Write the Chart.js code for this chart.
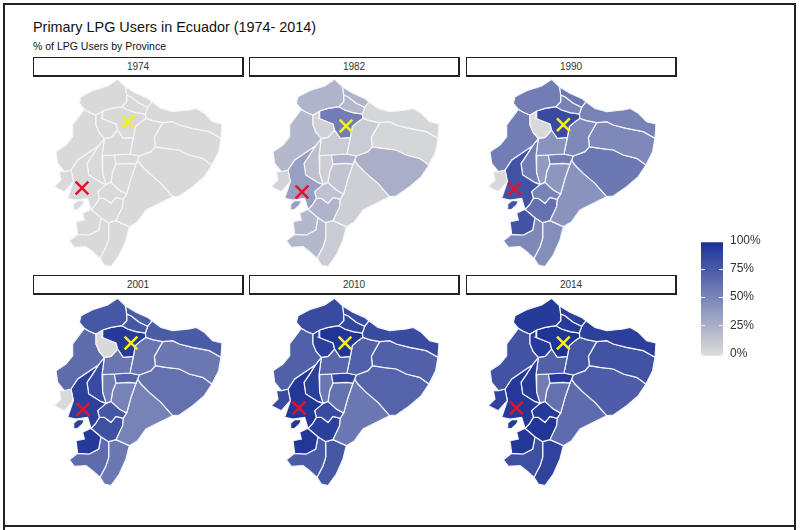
<!DOCTYPE html>
<html>
<head>
<meta charset="utf-8">
<script src="https://cdn.jsdelivr.net/npm/chart.js"></script>
<style>
  html, body { margin: 0; padding: 0; background: #fff; }
  #page { position: relative; width: 800px; height: 530px; overflow: hidden; font-family: "Liberation Sans", Arial, sans-serif; color: #111; }
  #frame { position: absolute; left: 3px; top: 3px; width: 789px; height: 520px; border: 2px solid #222; }
  .tail { position: absolute; top: 527px; width: 2px; height: 3px; background: #222; }
  #title { position: absolute; left: 33px; top: 19px; font-size: 14.4px; white-space: nowrap; }
  #subtitle { position: absolute; left: 33px; top: 40px; font-size: 10.5px; white-space: nowrap; }
  .strip { position: absolute; box-sizing: border-box; width: 211px; height: 20px; border: 1px solid #222; border-right-width: 2px; border-bottom-width: 2px; background: #fff; text-align: center; font-size: 10px; line-height: 18px; color: #333; }
  canvas { position: absolute; }
</style>
</head>
<body>
<div id="page">
  <div id="frame"></div>
  <div class="tail" style="left:3px"></div>
  <div class="tail" style="left:794px"></div>
  <div id="title">Primary LPG Users in Ecuador (1974- 2014)</div>
  <div id="subtitle">% of LPG Users by Province</div>
</div>
<script>
const years = ['1974', '1982', '1990', '2001', '2010', '2014'];

// province outlines in map units (same map in every panel, y grows downward)
const esmeraldas = [[245,88],[268,110],[272,135],[272,155],[258,170],[225,175],[200,183],[180,195],[160,187],[145,178],[130,160],[135,140],[170,122],[215,108]];
const carchi = [[268,110],[300,130],[335,145],[348,155],[335,172],[310,160],[285,140],[272,135]];
const imbabura = [[272,135],[285,140],[310,160],[335,172],[328,192],[300,188],[275,180],[258,170],[272,155]];
const sucumbios = [[348,155],[375,175],[410,185],[460,180],[480,175],[505,190],[530,215],[558,222],[555,265],[520,245],[470,235],[430,225],[410,215],[380,218],[350,212],[330,205],[328,192],[335,172]];
const pichincha = [[200,183],[225,175],[258,170],[275,180],[300,188],[328,192],[330,205],[315,215],[298,230],[292,262],[262,265],[245,240],[240,222],[210,210],[198,205]];
const santoDomingo = [[180,195],[200,183],[198,205],[210,210],[240,222],[245,240],[225,262],[205,265],[190,248],[180,225]];
const manabi = [[145,178],[160,187],[180,195],[180,225],[190,248],[205,265],[188,287],[125,330],[105,360],[85,365],[65,340],[60,305],[90,285],[110,260],[110,225]];
const santaElena = [[70,365],[85,365],[105,360],[112,395],[85,425],[55,410],[75,390]];
const guayas = [[188,287],[167,320],[153,340],[158,375],[195,398],[210,403],[185,425],[190,445],[178,465],[165,478],[155,445],[120,450],[95,445],[112,395],[105,360],[125,330]];
const puna = [[113,462],[125,452],[145,452],[140,465],[125,478],[113,480]];
const losRios = [[188,287],[205,265],[198,317],[200,370],[210,403],[195,398],[158,375],[153,340],[167,320]];
const cotopaxi = [[205,265],[225,262],[245,240],[262,265],[292,262],[282,312],[235,315],[198,317]];
const napo = [[292,262],[298,230],[315,215],[330,205],[350,212],[380,218],[355,262],[358,290],[345,305],[310,318],[282,312]];
const orellana = [[380,218],[410,215],[430,225],[470,235],[520,245],[555,265],[548,305],[528,345],[500,325],[460,315],[430,300],[390,295],[358,290],[355,262]];
const tungurahua = [[235,315],[282,312],[310,318],[305,330],[300,342],[280,340],[240,342]];
const pastaza = [[310,318],[345,305],[358,290],[390,295],[430,300],[460,315],[500,325],[528,345],[505,380],[470,410],[430,438],[410,440],[375,400],[340,370],[315,345],[305,330]];
const bolivar = [[198,317],[235,315],[240,342],[230,365],[225,397],[210,403],[200,370]];
const chimborazo = [[240,342],[280,340],[300,342],[285,385],[272,432],[250,420],[225,397],[230,365]];
const morona = [[300,342],[305,330],[315,345],[340,370],[375,400],[410,440],[370,460],[330,480],[305,515],[280,530],[240,512],[260,470],[262,448],[272,432],[285,385]];
const canar = [[210,403],[225,397],[250,420],[272,432],[262,448],[240,442],[225,460],[205,445],[190,445],[185,425]];
const azuay = [[190,445],[205,445],[225,460],[240,442],[262,448],[260,470],[240,512],[218,518],[195,503],[165,478],[178,465]];
const elOro = [[165,478],[195,503],[188,540],[160,555],[125,553],[120,515],[145,510],[140,490]];
const loja = [[125,553],[160,555],[188,540],[195,503],[218,518],[218,565],[210,590],[192,625],[170,605],[150,590],[115,592],[100,572]];
const zamora = [[218,518],[240,512],[280,530],[270,570],[250,615],[225,650],[205,645],[192,625],[210,590],[218,565]];

const provinces = [esmeraldas, carchi, imbabura, sucumbios, pichincha, santoDomingo, manabi, santaElena, guayas, puna, losRios, cotopaxi, napo, orellana, tungurahua, pastaza, bolivar, chimborazo, morona, canar, azuay, elOro, loja, zamora];

// % of LPG users, same order as provinces
const pct1974 = [0,0,0,0,0,0,0,0,0,0,0,0,0,0,0,0,0,0,0,0,0,0,0,0];
const pct1982 = [22,22,20,2,55,5,20,3,35,35,15,8,8,2,22,25,6,12,6,14,22,20,20,8];
const pct1990 = [55,58,52,52,85,0,55,0,80,80,55,42,48,48,55,58,38,40,42,52,62,80,48,45];
const pct2001 = [78,75,78,75,95,0,65,0,92,92,85,60,60,58,70,62,55,52,52,78,82,95,65,58];
const pct2010 = [85,85,88,85,98,92,72,85,97,97,92,68,72,72,88,70,58,62,58,85,92,97,75,78];
const pct2014 = [95,92,95,92,99,95,80,90,96,96,95,72,78,80,95,74,55,62,65,95,98,97,82,90];
const pctByYear = [pct1974, pct1982, pct1990, pct2001, pct2010, pct2014];

// the yellow and red X marks, one per panel
const yellowX = [[276,216],[279,228],[280,224],[285,222],[276,222],[280,222]];
const redX = [[138,414],[147,426],[133,416],[141,421],[138,417],[139,417]];

const legendTicks = [0, 25, 50, 75, 100];

const colLeft = [36, 253, 470];
const rowTop = [78, 297];
const stripTop = [57, 275];
const stripLeft = [33, 249, 466];

function pctColor(v) {
  const t = v / 100;
  const r = Math.round(217 + (28 - 217) * t);
  const g = Math.round(217 + (50 - 217) * t);
  const b = Math.round(217 + (150 - 217) * t);
  return `rgb(${r},${g},${b})`;
}

function addCanvas(left, top, w, h) {
  const c = document.createElement('canvas');
  c.width = w;
  c.height = h;
  c.style.left = left + 'px';
  c.style.top = top + 'px';
  c.style.width = w + 'px';
  c.style.height = h + 'px';
  document.getElementById('page').appendChild(c);
  return c;
}

years.forEach((year, i) => {
  const col = i % 3;
  const row = Math.floor(i / 3);

  const strip = document.createElement('div');
  strip.className = 'strip';
  strip.style.left = stripLeft[col] + 'px';
  strip.style.top = stripTop[row] + 'px';
  strip.textContent = year;
  document.getElementById('page').appendChild(strip);

  const datasets = provinces.map((poly, p) => ({
    label: 'p' + p,
    data: poly.concat([poly[0]]).map(d => ({ x: d[0], y: d[1] })),
    showLine: true,
    fill: 'shape',
    backgroundColor: pctColor(pctByYear[i][p]),
    borderColor: '#f4f5fa',
    borderWidth: 1.2,
    tension: 0,
    pointRadius: 0
  }));
  // lower order draws on top of the provinces
  datasets.push({
    label: 'yellow',
    order: -1,
    data: [{ x: yellowX[i][0], y: yellowX[i][1] }],
    pointStyle: 'crossRot',
    pointRadius: 9,
    borderColor: '#f5f01e',
    borderWidth: 2.5
  });
  datasets.push({
    label: 'red',
    order: -1,
    data: [{ x: redX[i][0], y: redX[i][1] }],
    pointStyle: 'crossRot',
    pointRadius: 9,
    borderColor: '#e8112d',
    borderWidth: 2.5
  });

  new Chart(addCanvas(colLeft[col], rowTop[row], 210, 194), {
    type: 'scatter',
    data: { datasets: datasets },
    options: {
      responsive: false,
      animation: false,
      layout: { padding: 0, autoPadding: false },
      plugins: { legend: { display: false }, tooltip: { enabled: false } },
      scales: {
        x: { type: 'linear', display: false, min: 0, max: 630 },
        y: { type: 'linear', display: false, min: 84, max: 666, reverse: true }
      }
    }
  });
});

// colour bar
new Chart(addCanvas(695, 226, 70, 144), {
  type: 'bar',
  data: {
    labels: ['pct'],
    datasets: [{
      data: [[-2, 98]],
      barPercentage: 1,
      categoryPercentage: 1,
      backgroundColor: ctx => {
        const area = ctx.chart.chartArea;
        const ys = ctx.chart.scales.y;
        if (!area) return pctColor(50);
        const g = ctx.chart.ctx.createLinearGradient(0, ys.getPixelForValue(0), 0, ys.getPixelForValue(98));
        legendTicks.forEach(t => g.addColorStop(t / 100, pctColor(t)));
        return g;
      }
    }]
  },
  options: {
    responsive: false,
    animation: false,
    layout: { padding: { left: 6, right: 0, top: 0, bottom: 0 }, autoPadding: false },
    plugins: { legend: { display: false }, tooltip: { enabled: false } },
    scales: {
      x: { display: false },
      y: {
        position: 'right',
        min: -2,
        max: 100,
        afterBuildTicks: axis => { axis.ticks = legendTicks.map(v => ({ value: v })); },
        afterFit: axis => { axis.width = 42; },
        grid: { display: false, drawTicks: false },
        border: { display: false },
        ticks: {
          padding: 7,
          color: '#333',
          font: { family: '"Liberation Sans", Arial, sans-serif', size: 12 },
          callback: v => v + '%'
        }
      }
    }
  },
  plugins: [{
    id: 'barNotches',
    afterDatasetsDraw(chart) {
      const { ctx, scales: { y } } = chart;
      const bar = chart.getDatasetMeta(0).data[0];
      ctx.save();
      ctx.strokeStyle = '#eceef5';
      ctx.lineWidth = 1;
      legendTicks.slice(0, 4).forEach(t => {
        const py = Math.round(y.getPixelForValue(t)) + 0.5;
        const l = bar.x - bar.width / 2;
        const r = bar.x + bar.width / 2;
        ctx.beginPath();
        ctx.moveTo(l, py); ctx.lineTo(l + 4, py);
        ctx.moveTo(r - 4, py); ctx.lineTo(r, py);
        ctx.stroke();
      });
      ctx.restore();
    }
  }]
});
</script>
</body>
</html>
